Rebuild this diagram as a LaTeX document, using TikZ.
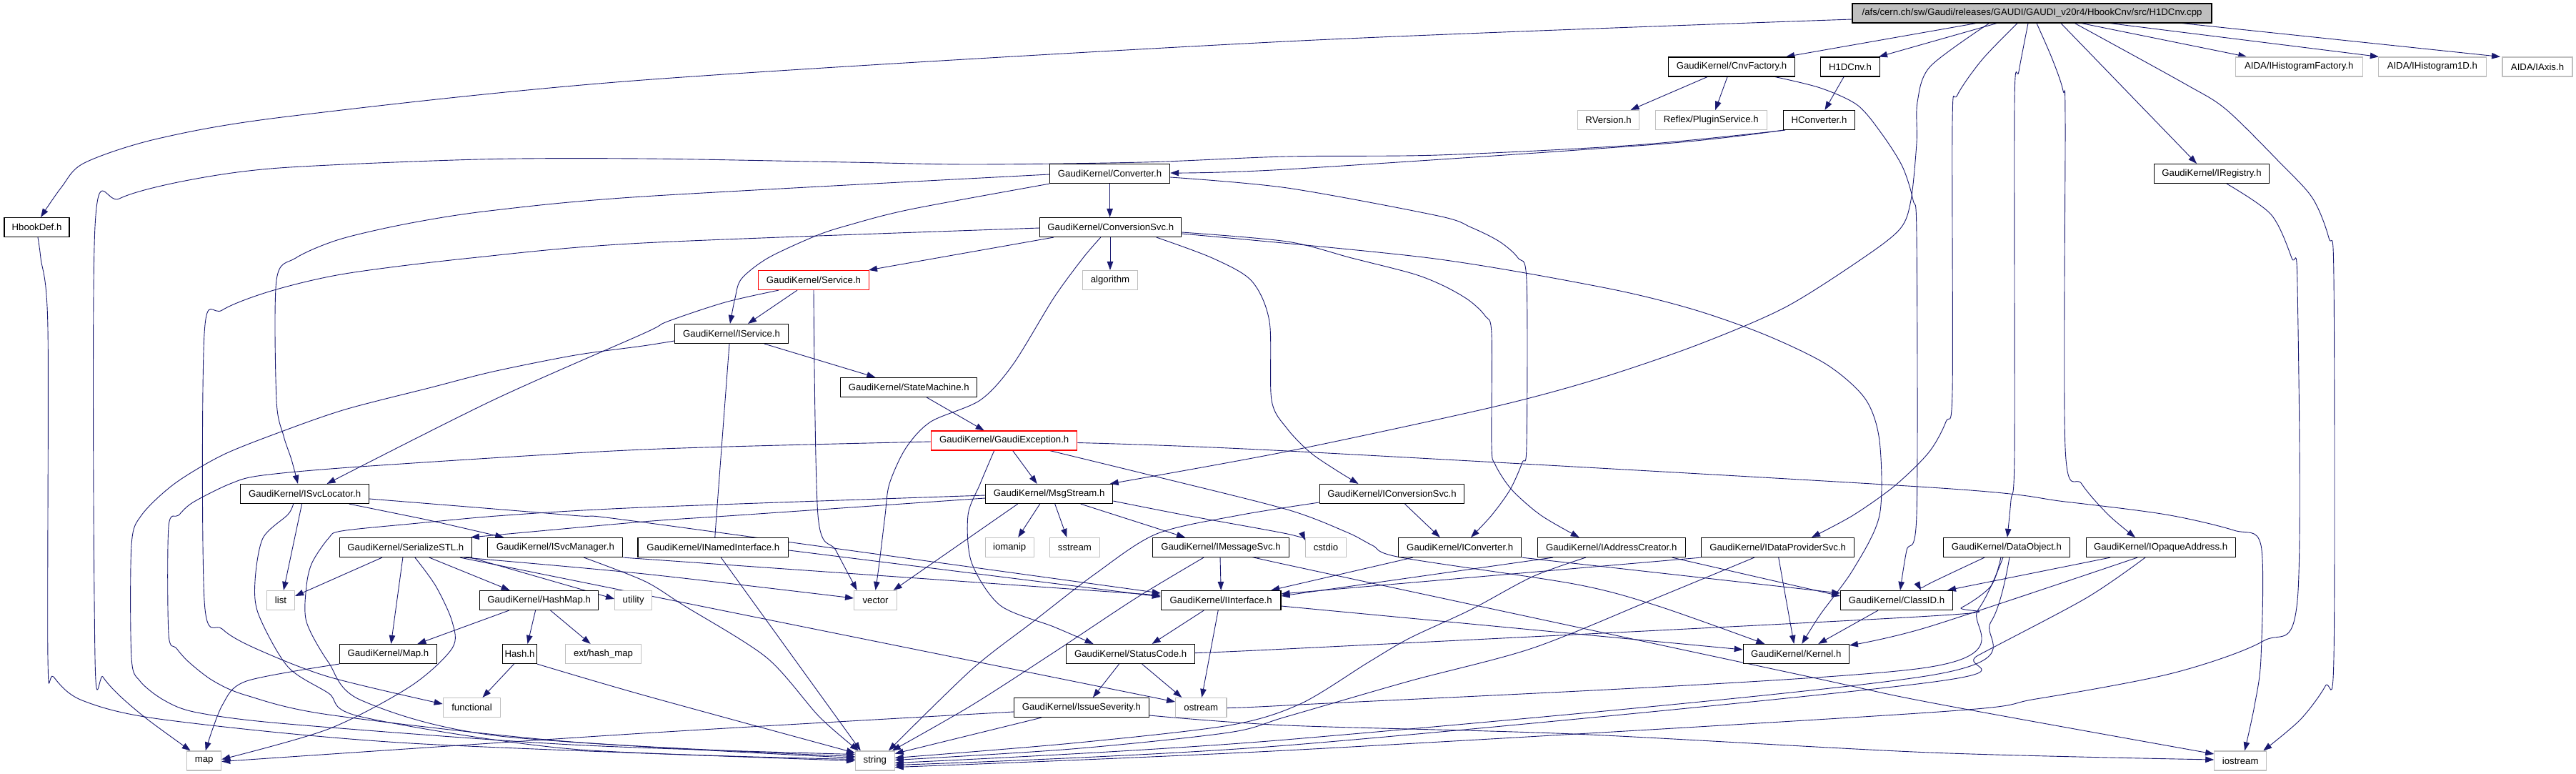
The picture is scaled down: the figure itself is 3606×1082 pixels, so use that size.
\documentclass[tikz,border=0pt]{standalone}
\usepackage{fontspec}
\setmainfont{Liberation Sans}
\usetikzlibrary{arrows.meta}
\definecolor{edgecol}{HTML}{191970}
\definecolor{extgray}{HTML}{BFBFBF}
\definecolor{mainfill}{HTML}{BFBFBF}
\pgfdeclarelayer{bg}
\pgfsetlayers{bg,main}
\newcommand\depc[1]{\draw[dep] plot[smooth,tension=0.5] coordinates {#1};}
\begin{document}
\begin{tikzpicture}[x=1pt,y=-1pt,
  box/.style={rectangle, minimum height=27pt, inner sep=0pt, fill=white, font=\fontsize{13.2}{15}\selectfont, line width=1.2pt},
  doc/.style={box, draw=black},
  ext/.style={box, draw=extgray},
  trunc/.style={box, draw=red},
  root/.style={box, draw=black, fill=mainfill},
  dep/.style={draw=edgecol, line width=0.9pt, -{Triangle[length=12pt,width=8.5pt]}},
  ]
\useasboundingbox (0,0) rectangle (3606,1082);

% ---------- nodes ----------
\node[root, minimum width=503pt] (main) at (2844.5,18.5) {/afs/cern.ch/sw/Gaudi/releases/GAUDI/GAUDI\_v20r4/HbookCnv/src/H1DCnv.cpp};
\node[doc, minimum width=91pt] (hbookdef) at (51.5,318) {HbookDef.h};
\node[doc, minimum width=177pt] (cnvfactory) at (2424,93.5) {GaudiKernel/CnvFactory.h};
\node[doc, minimum width=83pt] (h1dcnv) at (2590,93.5) {H1DCnv.h};
\node[ext, minimum width=86pt] (rversion) at (2251.6,168) {RVersion.h};
\node[ext, minimum width=156pt] (plugin) at (2395.2,168) {Reflex/PluginService.h};
\node[doc, minimum width=99.5pt] (hconverter) at (2546.5,168) {HConverter.h};
\node[ext, minimum width=178pt] (aidafac) at (3218.2,93.5) {AIDA/IHistogramFactory.h};
\node[ext, minimum width=151.4pt] (aida1d) at (3404.8,93.5) {AIDA/IHistogram1D.h};
\node[ext, minimum width=98pt] (aidaaxis) at (3552,93.5) {AIDA/IAxis.h};
\node[doc, minimum width=168pt] (converter) at (1553.6,243) {GaudiKernel/Converter.h};
\node[doc, minimum width=161pt] (iregistry) at (3096,243) {GaudiKernel/IRegistry.h};
\node[doc, minimum width=198pt] (convsvc) at (1554.8,318) {GaudiKernel/ConversionSvc.h};
\node[trunc, minimum width=155pt] (service) at (1139,392) {GaudiKernel/Service.h};
\node[ext, minimum width=77pt] (algorithm) at (1554,392) {algorithm};
\node[doc, minimum width=159pt] (iservice) at (1024,467) {GaudiKernel/IService.h};
\node[doc, minimum width=191pt] (statemachine) at (1272.3,542) {GaudiKernel/StateMachine.h};
\node[trunc, minimum width=204pt] (gaudiexc) at (1405.7,616.5) {GaudiKernel/GaudiException.h};
\node[doc, minimum width=180pt] (isvclocator) at (426.6,691) {GaudiKernel/ISvcLocator.h};
\node[doc, minimum width=178pt] (msgstream) at (1468.7,691) {GaudiKernel/MsgStream.h};
\node[doc, minimum width=202.5pt] (iconvsvc) at (1948.5,691) {GaudiKernel/IConversionSvc.h};
\node[doc, minimum width=185pt] (serialize) at (567.9,766) {GaudiKernel/SerializeSTL.h};
\node[doc, minimum width=189pt] (isvcmanager) at (777.3,766) {GaudiKernel/ISvcManager.h};
\node[doc, minimum width=210.7pt] (inamed) at (998.3,766) {GaudiKernel/INamedInterface.h};
\node[ext, minimum width=68pt] (iomanip) at (1413.2,766) {iomanip};
\node[ext, minimum width=69.6pt] (sstream) at (1504.4,766) {sstream};
\node[doc, minimum width=191pt] (imessagesvc) at (1709,766) {GaudiKernel/IMessageSvc.h};
\node[ext, minimum width=57pt] (cstdio) at (1856,766) {cstdio};
\node[doc, minimum width=172pt] (iconverter) at (2043.7,766) {GaudiKernel/IConverter.h};
\node[doc, minimum width=207pt] (iaddress) at (2255.7,766) {GaudiKernel/IAddressCreator.h};
\node[doc, minimum width=214pt] (idataprov) at (2488.7,766) {GaudiKernel/IDataProviderSvc.h};
\node[doc, minimum width=177.4pt] (dataobject) at (2808.9,766) {GaudiKernel/DataObject.h};
\node[doc, minimum width=209pt] (iopaque) at (3024.6,766) {GaudiKernel/IOpaqueAddress.h};
\node[ext, minimum width=39pt] (list) at (393,840) {list};
\node[doc, minimum width=166pt] (hashmap) at (754.6,840) {GaudiKernel/HashMap.h};
\node[ext, minimum width=52pt] (utility) at (886.7,840) {utility};
\node[ext, minimum width=60pt] (vector) at (1225.6,840) {vector};
\node[doc, minimum width=167.5pt] (iinterface) at (1709.2,840) {GaudiKernel/IInterface.h};
\node[doc, minimum width=156.7pt] (classid) at (2655,840) {GaudiKernel/ClassID.h};
\node[doc, minimum width=136pt] (maph) at (543.4,915) {GaudiKernel/Map.h};
\node[doc, minimum width=47.7pt] (hash) at (727.5,915) {Hash.h};
\node[ext, minimum width=106pt] (exthashmap) at (844.6,915) {ext/hash\_map};
\node[doc, minimum width=180pt] (statuscode) at (1582.6,915) {GaudiKernel/StatusCode.h};
\node[doc, minimum width=148pt] (kernel) at (2514.3,915) {GaudiKernel/Kernel.h};
\node[ext, minimum width=80.5pt] (functional) at (660.5,990) {functional};
\node[doc, minimum width=189pt] (issue) at (1513.9,990) {GaudiKernel/IssueSeverity.h};
\node[ext, minimum width=71.3pt] (ostream) at (1681.3,990) {ostream};
\node[ext, minimum width=48pt] (map) at (285.7,1064.5) {map};
\node[ext, minimum width=54.6pt] (string) at (1224.8,1064.5) {string};
\node[ext, minimum width=72.8pt] (iostream) at (3136.2,1064.5) {iostream};

\begin{pgfonlayer}{bg}
\fill[white] (0,0) rectangle (3606,1082);
% ---------- edges from main ----------
\depc{([yshift=-8.5]main.west) (1800,58) (900,112) (403,163) (221,194) (118,228) (86,262) ([xshift=5.5]hbookdef.north)}
\draw[dep] ([xshift=-78.5]main.south) -- ([xshift=76]cnvfactory.north);
\draw[dep] ([xshift=-49.5]main.south) -- ([xshift=40]h1dcnv.north);
\draw[dep] ([xshift=69.5]main.south) -- ([xshift=-73]aidafac.north);
\draw[dep] ([xshift=109.5]main.south) -- ([xshift=-75]aida1d.north);
\draw[dep] ([xshift=210.5]main.south) -- ([xshift=-52]aidaaxis.north);
\draw[dep] ([xshift=40.5]main.south) -- ([xshift=-21]iregistry.north);
\depc{([xshift=60]main.south) (3058,117) (3116,153) (3191,227) (3237,277) (3260,333) (3267,390) (3267,920) (3255,960) (3220,1007) ([xshift=32]iostream.north)}
\depc{([xshift=6.5]main.south) (2873,83) (2888,127) (2891,170) (2891,627) (2914,677) (2951,720) ([xshift=-35.6]iopaque.north)}
\depc{([xshift=-5.5]main.south) (2826,100) (2820,145) (2820,633) (2815,700) ([xshift=1]dataobject.north)}
\depc{([xshift=-20.5]main.south) (2775,83) (2740,133) (2733,170) (2733,547) (2724,590) (2700,633) (2652,680) (2594,721) ([xshift=47.3]idataprov.north)}
\depc{([xshift=-60]main.south) (2702,93) (2684,143) (2683,200) (2675,280) (2660,320) (2608,361) (2499,430) (2375,483) (2237,530) (2088,570) (1800,632) ([xshift=85]msgstream.north)}

% ---------- upper part ----------
\depc{([xshift=61]cnvfactory.south) (2548,123) (2600,147) (2634,187) (2663,233) (2678,280) (2683,330) (2683,720) (2669,770) ([xshift=5]classid.north)}
\draw[dep] ([xshift=-34]cnvfactory.south) -- ([xshift=31]rversion.north);
\draw[dep] ([xshift=-6]cnvfactory.south) -- ([xshift=6]plugin.north);
\draw[dep] ([xshift=-9]h1dcnv.south) -- ([xshift=8]hconverter.north);
\depc{(hconverter.south west) (2318,202) (1800,237) ([yshift=1]converter.east)}
\depc{([xshift=3]hconverter.south west) (2289,203) (2013,217) (1800,219) (1600,227) (1360,230) (1188,227) (900,222) (670,223) (391,235) (259,253) (167,278) (133,317) (133,920) (144,947) (167,973) (207,1007) ([xshift=-19]map.north)}
\draw[dep] (converter.south) -- ([xshift=-1.2]convsvc.north);
\depc{([yshift=-5]converter.east) (1802,263) (2013,302) (2059,318) (2099,338) (2125,361) (2137,392) (2137,623) (2131,647) (2114,685) (2088,721) ([xshift=15.3]iconverter.north)}
\depc{([yshift=-1]converter.west) (900,275) (685,295) (570,313) (475,335) (414,361) (387,392) (387,560) (397,610) (408,643) ([xshift=-9.6]isvclocator.north)}
\depc{(converter.south west) (1274,293) (1188,315) (1142,330) (1075,361) (1038,390) (1029,417) ([xshift=-2]iservice.north)}
\draw[dep] ([xshift=-80]convsvc.south) -- ([xshift=77]service.north);
\draw[dep] ([xshift=-0.8]convsvc.south) -- (algorithm.north);
\depc{([xshift=-14]convsvc.south) (1516,361) (1475,417) (1418,510) (1372,560) (1303,590) (1268,627) (1245,677) (1239,721) (1231,787) (vector.north)}
\depc{([xshift=64]convsvc.south) (1697,361) (1752,393) (1777,450) (1780,560) (1802,600) (1834,633) (1869,657) ([xshift=-47]iconvsvc.north)}
\depc{([yshift=-7]convsvc.east) (1802,338) (1892,361) (1978,383) (2021,400) (2056,420) (2079,442) (2088,467) (2088,623) (2093,650) (2116,685) (2157,721) ([xshift=-45]iaddress.north)}
\depc{([yshift=-9]convsvc.east) (2001,361) (2243,402) (2367,432) (2470,468) (2557,510) (2611,558) (2631,617) (2631,721) (2594,797) (2548,860) ([xshift=8]kernel.north)}
\depc{([yshift=-1]convsvc.west) (900,340) (659,361) (483,383) (380,407) (311,434) (286,467) (286,840) (311,880) (357,907) (460,947) ([yshift=5]functional.west)}
\draw[dep] ([xshift=-23]service.south) -- ([xshift=23]iservice.north);
\depc{([xshift=-49]service.south) (1015,423) (934,450) (900,467) (690,560) ([xshift=31]isvclocator.north)}
\depc{(service.south) (1145,721) (1170,770) ([xshift=-26]vector.north)}
\draw[dep] ([xshift=46]iservice.south) -- ([xshift=-47]statemachine.north);
\depc{([xshift=-3]iservice.south) (1003,721) ([xshift=2.7]inamed.north)}
\depc{([yshift=-10]iservice.west) (900,484) (805,497) (690,520) (604,542) (483,573) (391,605) (311,637) (244,677) (198,721) (184,763) (184,920) (196,953) (230,980) (276,997) (403,1013) (800,1042) ([yshift=9]string.west)}
\draw[dep] ([xshift=25]statemachine.south) -- ([xshift=-28]gaudiexc.north);

% ---------- GaudiException ----------
\draw[dep] ([xshift=12]gaudiexc.south) -- ([xshift=-17]msgstream.north);
\depc{([xshift=-14]gaudiexc.south) (1372,677) (1355,721) (1360,787) (1400,847) (1475,877) ([xshift=-52]statuscode.north)}
\depc{([xshift=64]gaudiexc.south) (1619,667) (1802,713) (1886,745) (1921,763) (1961,780) (2203,817) (2318,847) ([xshift=-44]kernel.north)}
\depc{([yshift=-3]gaudiexc.east) (1802,631) (2702,682) (2891,702) (3032,720) (3127,742) (3165,763) (3165,920) (3156,987) ([xshift=6]iostream.north)}
\depc{([yshift=-1.5]gaudiexc.west) (900,629) (518,652) (368,665) (322,677) (270,703) (250,721) (236,737) (236,887) (247,907) (265,927) (299,953) (345,973) (460,1000) (800,1038) ([yshift=6]string.west)}

% ---------- MsgStream ----------
\depc{([yshift=-6]msgstream.west) (1032,721) (900,730) ([xshift=91]serialize.north)}
\depc{([yshift=-2]msgstream.west) (900,710) (708,721) (575,733) (478,743) (460,753) (437,787) (429,820) (429,870) (460,927) (506,980) (700,1030) ([yshift=4]string.west)}
\draw[dep] ([xshift=-44]msgstream.south) -- ([xshift=25]vector.north);
\draw[dep] ([xshift=-13]msgstream.south) -- ([xshift=12]iomanip.north);
\draw[dep] ([xshift=8]msgstream.south) -- ([xshift=-11]sstream.north);
\draw[dep] ([xshift=44]msgstream.south) -- ([xshift=-50]imessagesvc.north);
\depc{([yshift=-10]msgstream.east) (1660,721) (1802,747) ([yshift=10]cstdio.west)}

% ---------- ISvcLocator ----------
\draw[dep] ([xshift=-4]isvclocator.south) -- ([xshift=4]list.north);
\depc{([xshift=-16]isvclocator.south) (403,720) (368,753) (357,813) (362,860) (403,933) (460,970) (506,1003) (800,1048) ([yshift=2]string.west)}
\depc{([xshift=62]isvclocator.south) (567,721) (610,730) ([xshift=-72]isvcmanager.north)}
\depc{([yshift=-7]isvclocator.east) (800,721) (902,731) ([yshift=10]iinterface.west)}

% ---------- SerializeSTL ----------
\draw[dep] ([xshift=-33]serialize.south) -- ([yshift=6]list.east);
\draw[dep] ([xshift=-4]serialize.south) -- ([xshift=4]maph.north);
\depc{([xshift=13]serialize.south) (610,820) (633,870) (633,907) (575,960) (460,1020) ([yshift=2]map.east)}
\draw[dep] ([xshift=33]serialize.south) -- ([xshift=-41]hashmap.north);
\draw[dep] ([xshift=91]serialize.south) -- ([yshift=2]utility.west);
\depc{([xshift=82]serialize.south) (902,803) ([yshift=3]vector.west)}
\draw[dep] ([xshift=76]serialize.south) -- ([yshift=8]ostream.west);

% ---------- ISvcManager, INamedInterface ----------
\draw[dep] (isvcmanager.south east) -- ([yshift=7]iinterface.west);
\depc{([xshift=40]isvcmanager.south) (902,813) (957,847) (1073,920) (1147,1003) ([xshift=-23]string.north)}
\draw[dep] ([yshift=-4]inamed.east) -- ([yshift=5]iinterface.west);
\draw[dep] ([xshift=11]inamed.south) -- ([xshift=-20]string.north);

% ---------- HashMap, Hash, Map ----------
\draw[dep] ([xshift=-42]hashmap.south) -- ([xshift=41]maph.north);
\draw[dep] ([xshift=-5]hashmap.south) -- ([xshift=11]hash.north);
\draw[dep] ([xshift=16]hashmap.south) -- ([xshift=-18]exthashmap.north);
\draw[dep] ([xshift=-8]hash.south) -- ([xshift=15]functional.north);
\depc{(hash.south east) (902,973) ([yshift=11]string.west)}
\depc{(maph.south west) (345,953) (311,987) ([xshift=2]map.north)}

% ---------- IMessageSvc, IInterface, StatusCode, IssueSeverity ----------
\draw[dep] ([xshift=-1]imessagesvc.south) -- (iinterface.north);
\depc{([xshift=-24]imessagesvc.south) (1590,837) (1475,913) (1360,987) ([xshift=24]string.north)}
\depc{([xshift=54]imessagesvc.south) (1800,790) (2514,943) (2702,983) ([yshift=9.5]iostream.west)}
\draw[dep] ([xshift=-24]iinterface.south) -- ([xshift=30]statuscode.north);
\draw[dep] ([xshift=-4]iinterface.south) -- ([xshift=1]ostream.north);
\draw[dep] ([yshift=-8]iinterface.east) -- ([yshift=6]kernel.west);
\draw[dep] ([xshift=-16]statuscode.south) -- ([xshift=16]issue.north);
\draw[dep] ([xshift=16]statuscode.south) -- ([xshift=-27]ostream.north);
\depc{([yshift=-6]issue.west) (900,1026) ([yshift=-1]map.east)}
\draw[dep] ([xshift=-56]issue.south) -- ([yshift=10]string.east);
\depc{([yshift=-11]issue.east) (1802,1015) (2203,1027) (2702,1053) ([yshift=1.5]iostream.west)}

% ---------- IConversionSvc, IConverter, IAddressCreator, IDataProviderSvc ----------
\draw[dep] ([xshift=18]iconvsvc.south) -- ([xshift=-28]iconverter.north);
\depc{([yshift=-12]iconvsvc.west) (1734,721) (1619,747) (1533,803) (1446,870) (1360,937) ([xshift=19]string.north)}
\draw[dep] ([xshift=-66]iconverter.south) -- ([xshift=70]iinterface.north);
\draw[dep] (iconverter.south east) -- ([yshift=10]classid.west);
\draw[dep] ([xshift=85]iaddress.south) -- ([yshift=6]classid.west);
\draw[dep] ([xshift=-82]iaddress.south) -- ([yshift=6]iinterface.east);
\depc{([xshift=-36]iaddress.south) (2145,807) (2059,853) (1973,893) (1915,927) (1820,985) (1720,1015) (1500,1040) ([yshift=4]string.east)}
\draw[dep] (idataprov.south west) -- ([yshift=9]iinterface.east);
\draw[dep] ([xshift=1]idataprov.south) -- ([xshift=-3]kernel.north);
\depc{([xshift=-33]idataprov.south) (2318,837) (2145,907) (1973,953) (1800,1003) (1720,1025) (1500,1048) ([yshift=1]string.east)}
\draw[dep] ([xshift=-26]classid.south) -- ([xshift=31]kernel.north);

% ---------- DataObject, IOpaqueAddress, IRegistry, HbookDef ----------
\depc{([xshift=-31]dataobject.south) (2700,817) ([xshift=34]classid.north)}
\depc{([xshift=-8]dataobject.south) (2787,820) (2746,850) (2702,862) (1800,908) ([yshift=2]statuscode.east)}
\depc{([xshift=-5]dataobject.south) (2769,853) (2690,935) (1800,987) ([yshift=2]ostream.east)}
\depc{([xshift=4]dataobject.south) (2787,870) (2702,945) (1800,1035) ([yshift=-3]string.east)}
\draw[dep] ([xshift=-70.6]iopaque.south) -- ([xshift=-8]classid.north east);
\depc{([xshift=-32.6]iopaque.south) (2700,877) ([yshift=12]kernel.east)}
\depc{([xshift=-21.6]iopaque.south) (2920,837) (2769,917) (2700,955) (1800,1043) ([yshift=-6]string.east)}
\depc{([xshift=21]iregistry.south) (3179,300) (3208,361) (3216,400) (3216,840) (3168,897) (3041,942) (2850,978) (2700,997) (1800,1050) ([yshift=-9]string.east)}
\depc{([xshift=1.5]hbookdef.south) (57,361) (67,460) (67,920) (75,947) (115,980) (230,1007) (575,1040) (string.west)}
\end{pgfonlayer}
\end{tikzpicture}
\end{document}
